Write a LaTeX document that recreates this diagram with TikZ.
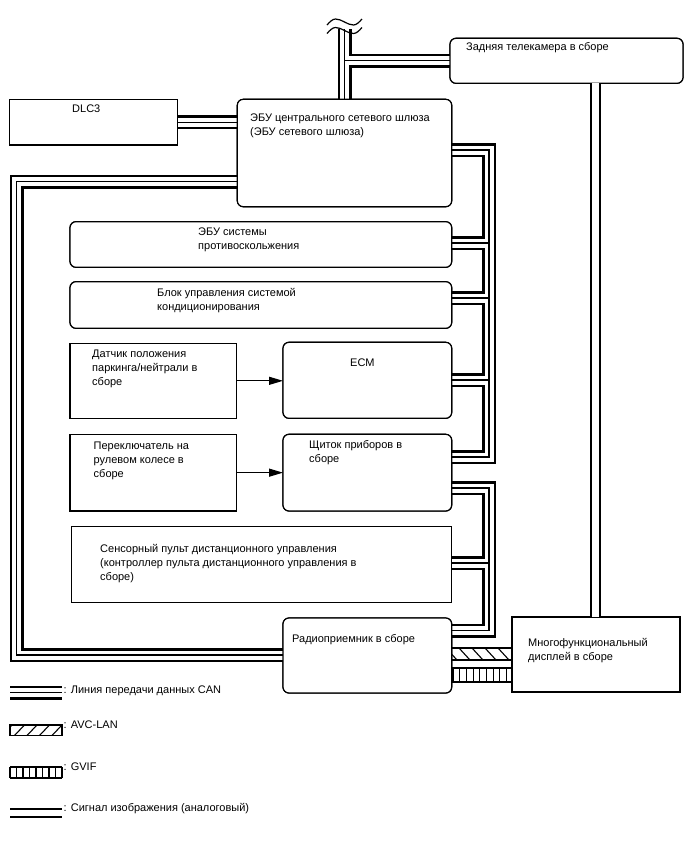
\documentclass[tikz,border=0pt]{standalone}
\usepackage{fontspec}
\setmainfont{Liberation Sans}
\usetikzlibrary{arrows.meta}
\begin{document}
\begin{tikzpicture}[x=1pt,y=-1pt,
  box/.style={draw, line width=1.2pt, fill=white, anchor=north west, inner sep=0pt, outer sep=0pt},
  rbox/.style={box, rounded corners=6pt},
  lbl/.style={anchor=base west, inner sep=0pt, align=left, font=\fontsize{11}{14}\selectfont},
  arr/.style={line width=1.2pt, -{Triangle[length=14pt,width=8pt]}},
  vid/.style={line width=1.4pt, double distance=7.6pt},
  band/.style={line width=1.7pt},
  hatch/.style={line width=1.1pt},
]
\useasboundingbox (0,0) rectangle (688,852);

% ---------- boxes (named, drawn first for anchors; redrawn later on top) ----------
\path
 node[box, minimum width=167.8pt, minimum height=45.7pt] (dlc) at (9.5,99.3) {}
 node[rbox, minimum width=214.4pt, minimum height=107.4pt] (gw) at (237.3,99.3) {}
 node[rbox, minimum width=233pt, minimum height=45pt] (cam) at (450,38.3) {}
 node[rbox, minimum width=381.7pt, minimum height=45.6pt] (abs) at (70,221.7) {}
 node[rbox, minimum width=381.7pt, minimum height=46.6pt] (ac) at (70,281.7) {}
 node[box, minimum width=166.7pt, minimum height=75pt] (ps) at (70,343.3) {}
 node[rbox, minimum width=168.7pt, minimum height=76pt] (ecm) at (283,342.3) {}
 node[box, minimum width=166.7pt, minimum height=76.7pt] (sw) at (70,434.3) {}
 node[rbox, minimum width=168.7pt, minimum height=76.7pt] (cl) at (283,434.3) {}
 node[box, minimum width=380pt, minimum height=75.6pt] (tp) at (71.7,526.7) {}
 node[rbox, minimum width=168.7pt, minimum height=75pt] (radio) at (283,618) {}
 node[box, minimum width=168pt, minimum height=75pt] (md) at (512,617) {};

% ---------- CAN network (layered strokes) ----------
\coordinate (tTop) at (344.5,29);
\coordinate (j1) at (344.5,60.5);
\coordinate (lbA) at (16.5,181.5);
\coordinate (lbB) at (16.5,655);
\coordinate (ur1) at (489,150);
\coordinate (ur2) at (489,457);
\coordinate (s1) at (489,243);
\coordinate (s2) at (489,298);
\coordinate (s3) at (489,380);
\coordinate (lr1) at (489,488);
\coordinate (lr2) at (489,630.5);
\coordinate (s4) at (489,563);
\coordinate (lgA) at (10,692.5);
\coordinate (lgB) at (62,692.5);

\foreach \w/\c in {14pt/black, 9pt/white, 1.3pt/black}{
  \draw[line width=\w, \c, line join=miter, line cap=butt]
    (tTop) -- (tTop |- gw.north)
    (j1) -- (j1 -| cam.west)
    (dlc.east) -- (dlc.east -| gw.west)
    (lbA -| gw.west) -- (lbA) -- (lbB) -- (lbB -| radio.west)
    (ur1 -| gw.east) -- (ur1) -- (ur2) -- (ur2 -| cl.east)
    (s1 -| abs.east) -- (s1)
    (s2 -| ac.east) -- (s2)
    (s3 -| ecm.east) -- (s3)
    (lr1 -| cl.east) -- (lr1) -- (lr2) -- (lr2 -| radio.east)
    (s4 -| tp.east) -- (s4)
    (lgA) -- (lgB);
}

% ---------- boxes on top ----------
\path
 node[box, minimum width=167.8pt, minimum height=45.7pt] at (9.5,99.3) {}
 node[rbox, minimum width=214.4pt, minimum height=107.4pt] at (237.3,99.3) {}
 node[rbox, minimum width=233pt, minimum height=45pt] at (450,38.3) {}
 node[rbox, minimum width=381.7pt, minimum height=45.6pt] at (70,221.7) {}
 node[rbox, minimum width=381.7pt, minimum height=46.6pt] at (70,281.7) {}
 node[box, minimum width=166.7pt, minimum height=75pt] at (70,343.3) {}
 node[rbox, minimum width=168.7pt, minimum height=76pt] at (283,342.3) {}
 node[box, minimum width=166.7pt, minimum height=76.7pt] at (70,434.3) {}
 node[rbox, minimum width=168.7pt, minimum height=76.7pt] at (283,434.3) {}
 node[box, minimum width=380pt, minimum height=75.6pt] at (71.7,526.7) {}
 node[rbox, minimum width=168.7pt, minimum height=75pt] at (283,618) {}
 node[box, minimum width=168pt, minimum height=75pt] at (512,617) {};

% ---------- tildes ----------
\draw[line width=1.2pt] (327,25) sin (335.5,19) cos (344.5,22) sin (353.5,25) cos (362,19);
\draw[line width=1.2pt] (327,33.5) sin (335.5,27.5) cos (344.5,30.5) sin (353.5,33.5) cos (362,27.5);

% ---------- analog video ----------
\coordinate (vx) at (595.5,0);
\draw[vid] (cam.south -| vx) -- (md.north -| vx);

% ---------- arrows ----------
\draw[arr] (ps.east) -- (ps.east -| ecm.west);
\draw[arr] (sw.east) -- (sw.east -| cl.west);

% ---------- AVC-LAN ----------
\coordinate (av1) at (451.7,648);
\coordinate (av2) at (512,660);
\begin{scope}
  \clip (av1) rectangle (av2);
  \foreach \x in {446,459,...,520} \draw[hatch] (\x,648) -- (\x+11,660);
\end{scope}
\draw[band] (av1) -- (av1 -| av2) (av1 |- av2) -- (av2);

% ---------- GVIF ----------
\coordinate (gv1) at (451.7,668.3);
\coordinate (gv2) at (512,681.7);
\foreach \x in {453,459.7,...,510} \draw[hatch] (\x,668.3) -- (\x,681.7);
\draw[band] (gv1) -- (gv1 -| gv2) (gv1 |- gv2) -- (gv2);

% ---------- legend ----------
\coordinate (la1) at (10,725);
\coordinate (la2) at (62,735.5);
\begin{scope}
  \clip (la1) rectangle (la2);
  \foreach \x in {2,14.5,...,64} \draw[hatch] (\x,735.5) -- (\x+10,725);
\end{scope}
\draw[line width=1.3pt] (la1) rectangle (la2);

\coordinate (lv1) at (10,767);
\coordinate (lv2) at (62,778);
\foreach \x in {10,16.5,...,63} \draw[line width=1.4pt] (\x,767) -- (\x,778);
\draw[line width=1.3pt] (lv1) -- (lv1 -| lv2) (lv1 |- lv2) -- (lv2);

\coordinate (li1) at (10,809);
\coordinate (li2) at (62,817);
\draw[line width=1.3pt] (li1) -- (li1 -| li2) (li1 |- li2) -- (li2);

% ---------- texts (base = last line's baseline) ----------
\node[lbl] (tdlc) at (72,112.7) {DLC3};
\node[lbl] (tgw) at (250,135) {ЭБУ центрального сетевого шлюза\\(ЭБУ сетевого шлюза)};
\node[lbl] (tcam) at (466,50.7) {Задняя телекамера в сборе};
\node[lbl] (tabs) at (198,249.5) {ЭБУ системы\\противоскольжения};
\node[lbl] (tac) at (157,310) {Блок управления системой\\кондиционирования};
\node[lbl] (tps) at (92,385) {Датчик положения\\паркинга/нейтрали в\\сборе};
\node[lbl] (tecm) at (350,366.7) {ECM};
\node[lbl] (tsw) at (93.5,477) {Переключатель на\\рулевом колесе в\\сборе};
\node[lbl] (tcl) at (309,462) {Щиток приборов в\\сборе};
\node[lbl] (ttp) at (100,580.5) {Сенсорный пульт дистанционного управления\\(контроллер пульта дистанционного управления в\\сборе)};
\node[lbl] (tradio) at (292,642) {Радиоприемник в сборе};
\node[lbl] (tmd) at (528,660) {Многофункциональный\\дисплей в сборе};

\node[lbl] (lt1) at (63.5,693) {: Линия передачи данных CAN};
\node[lbl] (lt2) at (63.5,728.3) {: AVC-LAN};
\node[lbl] (lt3) at (63.5,770.5) {: GVIF};
\node[lbl] (lt4) at (63.5,811) {: Сигнал изображения (аналоговый)};
\end{tikzpicture}
\end{document}
